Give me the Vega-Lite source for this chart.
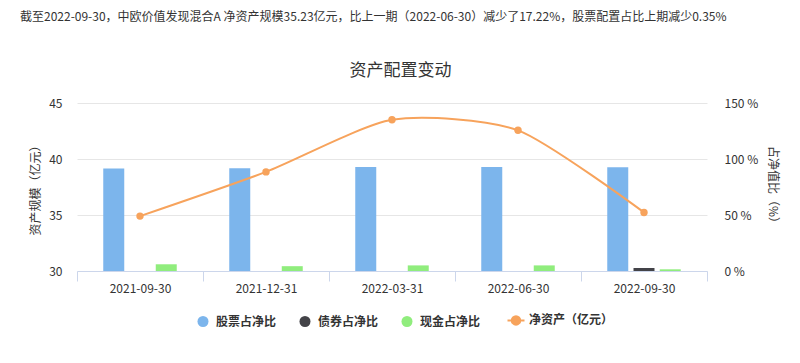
{
  "$schema": "https://vega.github.io/schema/vega-lite/v6.json",
  "width": 630,
  "height": 168,
  "autosize": {"type": "none"},
  "padding": {"left": 77, "top": 103, "right": 93, "bottom": 92},
  "background": "white",
  "config": {
    "font": "Noto Sans CJK SC",
    "view": {"stroke": null},
    "axis": {"labelFont": "Noto Sans CJK SC", "titleFont": "Noto Sans CJK SC"}
  },
  "title": {
    "text": "截至2022-09-30，中欧价值发现混合A 净资产规模35.23亿元，比上一期（2022-06-30）减少了17.22%，股票配置占比上期减少0.35%",
    "anchor": "start",
    "frame": "group",
    "dx": -57,
    "offset": 37,
    "fontSize": 12,
    "fontWeight": "normal",
    "color": "#333333",
    "font": "Noto Sans CJK SC"
  },
  "layer": [
    {
      "data": {
        "values": [
          {"date": "2021-09-30", "series": "股票占净比", "pct": 91.6},
          {"date": "2021-09-30", "series": "债券占净比", "pct": 0},
          {"date": "2021-09-30", "series": "现金占净比", "pct": 6.0},
          {"date": "2021-12-31", "series": "股票占净比", "pct": 91.7},
          {"date": "2021-12-31", "series": "债券占净比", "pct": 0},
          {"date": "2021-12-31", "series": "现金占净比", "pct": 4.3},
          {"date": "2022-03-31", "series": "股票占净比", "pct": 92.8},
          {"date": "2022-03-31", "series": "债券占净比", "pct": 0},
          {"date": "2022-03-31", "series": "现金占净比", "pct": 5.0},
          {"date": "2022-06-30", "series": "股票占净比", "pct": 92.9},
          {"date": "2022-06-30", "series": "债券占净比", "pct": 0},
          {"date": "2022-06-30", "series": "现金占净比", "pct": 5.0},
          {"date": "2022-09-30", "series": "股票占净比", "pct": 92.6},
          {"date": "2022-09-30", "series": "债券占净比", "pct": 2.7},
          {"date": "2022-09-30", "series": "现金占净比", "pct": 1.5}
        ]
      },
      "mark": {"type": "bar"},
      "encoding": {
        "x": {
          "field": "date",
          "type": "nominal",
          "scale": {"paddingInner": 0, "paddingOuter": 0},
          "axis": {
            "orient": "bottom",
            "title": null,
            "labelAngle": 0,
            "tickBand": "extent",
            "domainColor": "#ccd6eb",
            "tickColor": "#ccd6eb",
            "tickSize": 10,
            "labelPadding": 2,
            "labelFontSize": 12,
            "labelColor": "#333333",
            "grid": false
          }
        },
        "xOffset": {
          "field": "series",
          "type": "nominal",
          "scale": {"domain": ["股票占净比", "债券占净比", "现金占净比"], "paddingInner": 0.2, "paddingOuter": 1.12}
        },
        "y": {
          "field": "pct",
          "type": "quantitative",
          "scale": {"domain": [0, 150], "nice": false},
          "axis": {
            "orient": "right",
            "values": [0, 50, 100, 150],
            "labelExpr": "datum.value + ' %'",
            "ticks": false,
            "tickSize": 0,
            "domain": false,
            "grid": false,
            "labelPadding": 17,
            "labelFontSize": 12,
            "labelColor": "#333333",
            "title": "占净值比（%）",
            "titleAngle": 90,
            "titlePadding": 8,
            "titleFontSize": 12,
            "titleFontWeight": "normal",
            "titleColor": "#333333"
          }
        },
        "color": {
          "field": "series",
          "type": "nominal",
          "scale": {
            "domain": ["股票占净比", "债券占净比", "现金占净比", "净资产（亿元）"],
            "range": ["#7cb5ec", "#434348", "#90ed7d", "#f7a35c"]
          },
          "legend": {
            "title": null,
            "orient": "none",
            "direction": "horizontal",
            "legendX": 120,
            "legendY": 211,
            "symbolType": "circle",
            "labelFontSize": 12,
            "labelFontWeight": "bold",
            "labelColor": "#333333",
            "labelFont": "Noto Sans CJK SC",
            "columnPadding": 22,
            "labelOffset": 7,
            "encode": {
              "symbols": {
                "update": {
                  "shape": {"signal": "datum.value === '净资产（亿元）' ? 'M-1,0L1,0M0.5,0A0.5,0.5 0 1,1 -0.5,0A0.5,0.5 0 1,1 0.5,0Z' : 'circle'"},
                  "size": {"signal": "datum.value === '净资产（亿元）' ? 289 : 121"},
                  "fill": {"signal": "scale('color', datum.value)"},
                  "stroke": {"signal": "scale('color', datum.value)"},
                  "strokeWidth": {"signal": "datum.value === '净资产（亿元）' ? 2 : 0"},
                  "opacity": {"value": 1}
                }
              }
            }
          }
        }
      }
    },
    {
      "data": {
        "values": [
          {"date": "2021-09-30", "nav": 34.9},
          {"date": "2021-12-31", "nav": 38.85},
          {"date": "2022-03-31", "nav": 43.5},
          {"date": "2022-06-30", "nav": 42.56},
          {"date": "2022-09-30", "nav": 35.23}
        ]
      },
      "mark": {
        "type": "line",
        "interpolate": "cardinal",
        "tension": 0.3,
        "strokeWidth": 2,
        "point": {"filled": true, "size": 55}
      },
      "encoding": {
        "x": {
          "field": "date",
          "type": "nominal",
          "axis": {
            "orient": "top",
            "labels": false,
            "ticks": false,
            "domain": false,
            "grid": false,
            "title": "资产配置变动",
            "titleFontSize": 17,
            "titleFontWeight": "normal",
            "titleColor": "#333333",
            "titleX": 323,
            "titleY": -24,
            "titleAnchor": "middle"
          }
        },
        "y": {
          "field": "nav",
          "type": "quantitative",
          "scale": {"domain": [30, 45], "nice": false, "zero": false},
          "axis": {
            "orient": "left",
            "values": [30, 35, 40, 45],
            "grid": true,
            "gridColor": "#e6e6e6",
            "ticks": false,
            "tickSize": 0,
            "domain": false,
            "labelPadding": 15,
            "labelFontSize": 12,
            "labelColor": "#333333",
            "title": "资产规模（亿元）",
            "titlePadding": 6,
            "titleFontSize": 12,
            "titleFontWeight": "normal",
            "titleColor": "#333333"
          }
        },
        "color": {"datum": "净资产（亿元）"}
      }
    }
  ],
  "resolve": {"scale": {"y": "independent"}, "axis": {"x": "independent"}}
}
